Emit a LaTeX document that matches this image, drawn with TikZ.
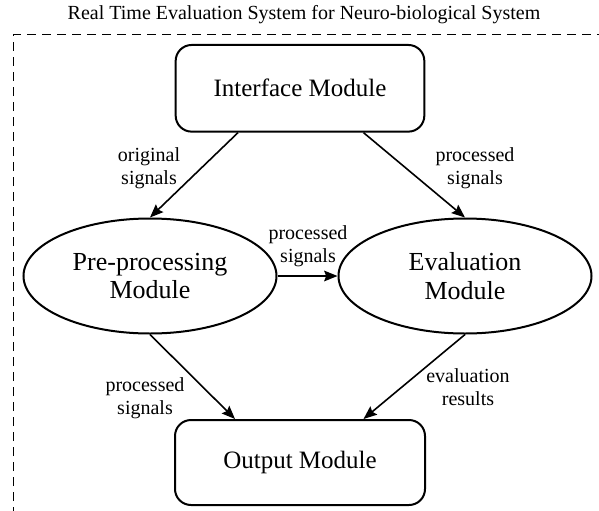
\documentclass[tikz,border=0pt]{standalone}
\usepackage{fontspec}
\setmainfont{Liberation Serif}
\usetikzlibrary{arrows.meta,calc,shapes.geometric}

\tikzset{
  modbox/.style={draw, line width=1.5pt, rounded corners=12pt, align=center,
    font=\fontsize{18.75}{22.5}\selectfont, inner sep=0pt},
  modellipse/.style={draw, ellipse, line width=1.5pt, align=center, inner sep=0pt,
    minimum width=189.75pt, minimum height=86.25pt, font=\fontsize{19.5}{21.3}\selectfont},
  flow/.style={line width=1.2pt, -{Stealth[length=10pt,width=8pt,inset=1.5pt]}},
  edgetext/.style={align=center, inner sep=0pt, font=\fontsize{15}{17.25}\selectfont},
  frame/.style={line width=0.75pt, dash pattern=on 6.75pt off 4.5pt},
}

\begin{document}
\begin{tikzpicture}[x=0.75pt, y=-0.75pt]
  \useasboundingbox (0,0) rectangle (599,510);

  % system title and dashed system boundary
  \node[font=\fontsize{15}{18}\selectfont, inner sep=0pt] (title) at (304,15)
    {Real Time Evaluation System for Neuro-biological System};
  \coordinate (corner) at (13,35);
  \coordinate (topend) at (605,35);
  \coordinate (leftend) at (13,516);
  \draw[frame] (leftend) -- (corner) -- (topend);

  % modules
  \node[modbox, minimum width=186.5pt, minimum height=65pt] (iface) at (300,88.3) {Interface Module};
  \node[modellipse] (pre) at (150,276) {Pre-processing\\Module};
  \node[modellipse] (eval) at (465,276) {Evaluation\\Module};
  \node[modbox, minimum width=187.5pt, minimum height=63.75pt] (out) at (300,462.5) {Output Module};

  % data flow
  \draw[flow] ($(iface.south)+(-62,0)$) -- (pre.north);
  \draw[flow] ($(iface.south)+(63.5,0)$) -- (eval.north);
  \draw[flow] (pre.east) -- (eval.west);
  \draw[flow] (pre.south) -- ($(out.north)+(-65,0)$);
  \draw[flow] (eval.south) -- ($(out.north)+(63.5,0)$);

  % flow labels
  \node[edgetext] (l1) at (149,168) {original\\signals};
  \node[edgetext] (l2) at (475,168) {processed\\signals};
  \node[edgetext] (l3) at (308,246) {processed\\signals};
  \node[edgetext] (l4) at (145,398) {processed\\signals};
  \node[edgetext] (l5) at (468,387) {evaluation\\results};
\end{tikzpicture}
\end{document}
